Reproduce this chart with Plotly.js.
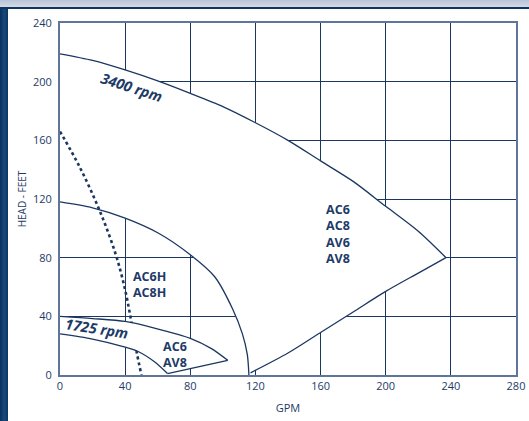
<!DOCTYPE html>
<html>
<head>
<meta charset="utf-8">
<script src="https://cdn.plot.ly/plotly-3.0.1.min.js"></script>
<style>
  html, body { margin: 0; padding: 0; background: #ffffff; }
  #wrap { position: relative; width: 529px; height: 421px; overflow: hidden; background: #ffffff; }
  #chart { position: absolute; left: 0; top: 0; width: 529px; height: 421px; }
  #topstrip { position: absolute; left: 0; top: 0; width: 529px; height: 7px; background: linear-gradient(#b9c4d8, #d3dae6); pointer-events: none; }
  #topline { position: absolute; left: 0; top: 7px; width: 529px; height: 2px; background: #0e3461; pointer-events: none; }
  #leftstrip { position: absolute; left: 0; top: 9px; width: 8px; height: 412px; background: linear-gradient(90deg, #08315f, #1a4879 55%, #0a3566); pointer-events: none; }
</style>
</head>
<body>
<div id="wrap">
  <div id="chart"></div>
  <div id="topstrip"></div>
  <div id="topline"></div>
  <div id="leftstrip"></div>
</div>
<script>
// ---- Data (GPM vs HEAD in feet) ----
// 3400 rpm head curve (upper boundary of the big envelope)
const rpm3400_gpm  = [0, 20, 40, 60, 80, 100, 120, 140, 160, 180, 200, 220, 237];
const rpm3400_head = [219, 214.5, 208, 200.5, 192, 183, 172, 160, 146, 132, 115, 98, 80];
// lower-right boundary of the big envelope
const lowerEdge_gpm  = [237, 220, 200, 180, 160, 140, 117];
const lowerEdge_head = [80, 69.5, 57, 43, 29, 15, 1.5];
// AC6H / AC8H curve
const hcurve_gpm  = [0, 20, 40, 60, 80, 95, 106, 112, 115, 116];
const hcurve_head = [118, 114, 107, 97, 82, 67, 45, 28, 14, 0];
// dotted line
const dotted_gpm  = [0, 12, 24, 34, 40, 44, 47, 50];
const dotted_head = [166, 142, 113, 83, 58, 35, 16, 0];
// 1725 rpm band
const rpm1725Upper_gpm  = [0, 20, 40, 58, 80, 93, 103];
const rpm1725Upper_head = [40, 38.5, 36.5, 32, 25, 18, 10];
const rpm1725Lower_gpm  = [0, 20, 40, 48, 58, 66];
const rpm1725Lower_head = [28, 24.5, 19, 16, 9, 1];
// axis ticks
const xTicks = [0, 40, 80, 120, 160, 200, 240, 280];
const yTicks = [0, 40, 80, 120, 160, 200, 240];
// labels
const bigLabel = ['AC6', 'AC8', 'AV6', 'AV8'];
const hLabel = ['AC6H', 'AC8H'];
const lowLabel = ['AC6', 'AV8'];

const NAVY = '#1b3761';
const TEXT = '#1d3b66';
const FONT = '"Open Sans", "Noto Sans", sans-serif';

// Big envelope fill: left edge up, 3400 curve, lower edge, then back along the H curve
const bigX = [0].concat(rpm3400_gpm, lowerEdge_gpm.slice(1), hcurve_gpm.slice().reverse());
const bigY = [118].concat(rpm3400_head, lowerEdge_head.slice(1), hcurve_head.slice().reverse());
// 1725 band fill
const bandX = rpm1725Upper_gpm.concat(rpm1725Lower_gpm.slice().reverse());
const bandY = rpm1725Upper_head.concat(rpm1725Lower_head.slice().reverse());

function fillTrace(x, y) {
  return { x: x, y: y, type: 'scatter', mode: 'lines', fill: 'toself', fillcolor: '#ffffff',
    line: { width: 0, color: 'rgba(0,0,0,0)' }, hoverinfo: 'skip' };
}
function curve(x, y, shape) {
  return { x: x, y: y, type: 'scatter', mode: 'lines',
    line: { color: NAVY, width: 1.3, shape: shape || 'spline', smoothing: 0.8 }, hoverinfo: 'skip' };
}

const traces = [
  fillTrace(bigX, bigY),
  curve(rpm3400_gpm, rpm3400_head),
  curve(lowerEdge_gpm, lowerEdge_head),
  curve(hcurve_gpm, hcurve_head),
  { x: dotted_gpm, y: dotted_head, type: 'scatter', mode: 'lines',
    line: { color: NAVY, width: 2.6, dash: 'dot', shape: 'spline' }, hoverinfo: 'skip' },
  fillTrace(bandX, bandY),
  curve(rpm1725Upper_gpm, rpm1725Upper_head),
  curve(rpm1725Lower_gpm, rpm1725Lower_head),
  curve([rpm1725Upper_gpm[rpm1725Upper_gpm.length - 1], rpm1725Lower_gpm[rpm1725Lower_gpm.length - 1]],
        [rpm1725Upper_head[rpm1725Upper_head.length - 1], rpm1725Lower_head[rpm1725Lower_head.length - 1]], 'linear')
];

function lab(text, x, y, size, opts) {
  return Object.assign({ x: x, y: y, xref: 'x', yref: 'y', text: text, showarrow: false,
    font: { family: FONT, size: size, color: TEXT, weight: 'bold' } }, opts || {});
}

const annotations = [
  lab('<i>3400 rpm</i>', 44.5, 196.3, 14.5, { textangle: 18 }),
  lab('<i>1725 rpm</i>', 22.5, 31.8, 14.5, { textangle: 9 }),
  lab(hLabel.join('<br>'), 55.2, 62, 12.5),
  lab(lowLabel.join('<br>'), 70.5, 14.3, 12.5),
  lab(bigLabel.join('<br>'), 170.7, 96, 12.5)
];

const layout = {
  width: 529, height: 421,
  margin: { l: 60, r: 12.5, t: 23, b: 46, pad: 0 },
  paper_bgcolor: '#ffffff', plot_bgcolor: '#ffffff',
  showlegend: false,
  font: { family: FONT, color: TEXT, size: 11 },
  xaxis: {
    range: [0, 280], tickvals: xTicks, ticktext: xTicks.map(String),
    showgrid: true, gridcolor: NAVY, gridwidth: 1, zeroline: false,
    showline: true, linecolor: '#5f7599', linewidth: 2, mirror: true,
    ticks: '', tickfont: { family: FONT, size: 11, color: TEXT },
    title: { text: 'GPM', font: { family: FONT, size: 11, color: TEXT }, standoff: 12 }
  },
  yaxis: {
    range: [0, 240], tickvals: yTicks, ticktext: yTicks.map(String),
    showgrid: true, gridcolor: NAVY, gridwidth: 1, zeroline: false,
    showline: true, linecolor: '#5f7599', linewidth: 2, mirror: true,
    ticks: 'outside', ticklen: 4, tickcolor: 'rgba(0,0,0,0)',
    tickfont: { family: FONT, size: 11, color: TEXT },
    title: { text: 'HEAD - FEET', font: { family: FONT, size: 10, color: TEXT }, standoff: 4 }
  },
  annotations: annotations
};

Plotly.newPlot('chart', traces, layout, { displayModeBar: false, staticPlot: true });
</script>
</body>
</html>
